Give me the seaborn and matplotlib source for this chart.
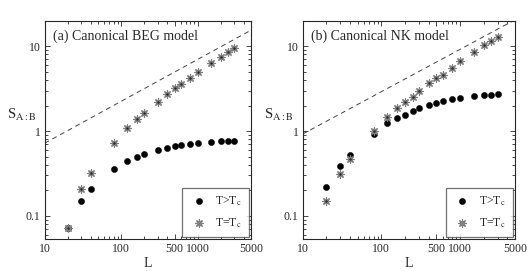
import numpy as np
import pandas as pd
import matplotlib
matplotlib.use("Agg")
import matplotlib.pyplot as plt
import seaborn as sns
from matplotlib.ticker import FixedLocator, FixedFormatter, LogLocator, NullFormatter

# ---- data ----
L_beg = [20, 30, 40, 80, 120, 160, 200, 300, 400, 500, 600, 800, 1000, 1500, 2000, 2500, 3000]
beg_above = [0.073, 0.15, 0.206, 0.357, 0.444, 0.50, 0.54, 0.60, 0.64, 0.667, 0.68, 0.70, 0.717,
             0.74, 0.756, 0.763, 0.763]
beg_crit = [0.073, 0.206, 0.323, 0.73, 1.08, 1.38, 1.63, 2.21, 2.72, 3.18, 3.57, 4.28, 4.94,
            6.36, 7.48, 8.57, 9.55]

L_nk = [20, 30, 40, 80, 120, 160, 200, 250, 300, 400, 500, 600, 800, 1000, 1500, 2000, 2500, 3000]
nk_above = [0.221, 0.385, 0.52, 0.93, 1.23, 1.41, 1.54, 1.71, 1.85, 2.02, 2.15, 2.25, 2.38, 2.44,
            2.58, 2.63, 2.65, 2.72]
nk_crit = [0.151, 0.315, 0.465, 1.0, 1.45, 1.85, 2.21, 2.49, 2.95, 3.70, 4.17, 4.64, 5.56, 6.61,
           8.57, 10.3, 11.5, 12.9]

guide_L = [10, 5000]
guide_beg = [0.72, 15.5]
guide_nk = [0.92, 20.5]

panel_titles = ["(a) Canonical BEG model", "(b) Canonical NK model"]
xtick_vals = [10, 100, 500, 1000, 5000]
xtick_labels = ["10", "100", "500", "1000", "5000"]
ytick_vals = [0.1, 1, 10]
ytick_labels = ["0.1", "1", "10"]
legend_labels = [r"T>T$_\mathrm{c}$", r"T=T$_\mathrm{c}$"]

sns.set_style("ticks")
plt.rcParams["font.family"] = ["Liberation Serif", "DejaVu Serif"]
plt.rcParams["mathtext.fontset"] = "stix"

W, H = 527, 271
fig = plt.figure(figsize=(W / 100, H / 100), dpi=100)
ax_a = fig.add_axes([44.7 / W, 1 - 239.3 / H, 206.5 / W, 218.6 / H])
ax_b = fig.add_axes([302.5 / W, 1 - 239.3 / H, 212.5 / W, 218.6 / H])

asterisk = (8, 2, 0)

panels = [
    (ax_a, L_beg, beg_above, beg_crit, guide_beg, panel_titles[0]),
    (ax_b, L_nk, nk_above, nk_crit, guide_nk, panel_titles[1]),
]

for ax, L, above, crit, guide, title in panels:
    df = pd.DataFrame({"L": L, "above": above, "crit": crit})
    gd = pd.DataFrame({"L": guide_L, "S": guide})

    sns.lineplot(data=gd, x="L", y="S", ax=ax, color="0.25", lw=0.7,
                 linestyle=(0, (5, 4)), legend=False)
    sns.scatterplot(data=df, x="L", y="above", ax=ax, marker="o", s=20,
                    color="black", edgecolor="black", linewidth=0.3,
                    label=legend_labels[0], zorder=3)
    sns.scatterplot(data=df, x="L", y="crit", ax=ax, marker=asterisk, s=28,
                    color="0.5", linewidth=0.9, label=legend_labels[1], zorder=4)
    # dark centre of the asterisks
    sns.scatterplot(data=df, x="L", y="crit", ax=ax, marker="o", s=3,
                    color="0.15", linewidth=0, legend=False, zorder=5)

    ax.set_xscale("log")
    ax.set_yscale("log")
    ax.set_xlim(10, 5000)
    ax.set_ylim(0.053, 20)

    ax.xaxis.set_major_locator(FixedLocator(xtick_vals))
    ax.xaxis.set_major_formatter(FixedFormatter(xtick_labels))
    ax.xaxis.set_minor_locator(LogLocator(base=10, subs=np.arange(2, 10)))
    ax.xaxis.set_minor_formatter(NullFormatter())
    ax.yaxis.set_major_locator(FixedLocator(ytick_vals))
    ax.yaxis.set_major_formatter(FixedFormatter(ytick_labels))
    ax.yaxis.set_minor_locator(LogLocator(base=10, subs=np.arange(2, 10)))
    ax.yaxis.set_minor_formatter(NullFormatter())

    ax.tick_params(which="both", direction="in", top=True, right=True,
                   labelsize=8.5, pad=3, width=0.6)
    ax.tick_params(which="major", length=3.5)
    ax.tick_params(which="minor", length=2)
    for sp in ax.spines.values():
        sp.set_linewidth(0.8)

    ax.set_xlabel("L", fontsize=10, labelpad=1)
    ax.set_ylabel(r"S$_{\mathrm{A{:}B}}$", fontsize=10.5, rotation=0, labelpad=0)
    ax.yaxis.set_label_coords(-0.11, 0.53)

    ax.text(0.04, 0.96, title, transform=ax.transAxes, fontsize=10,
            ha="left", va="top")

    leg = ax.legend(loc="lower right", fontsize=8.5, frameon=True, fancybox=False,
                    borderaxespad=0.2, handletextpad=0.6, labelspacing=0.7,
                    borderpad=0.6, handlelength=1.6)
    leg.get_frame().set_edgecolor("0.3")
    leg.get_frame().set_linewidth(0.9)

fig.savefig("out.png", dpi=100)
